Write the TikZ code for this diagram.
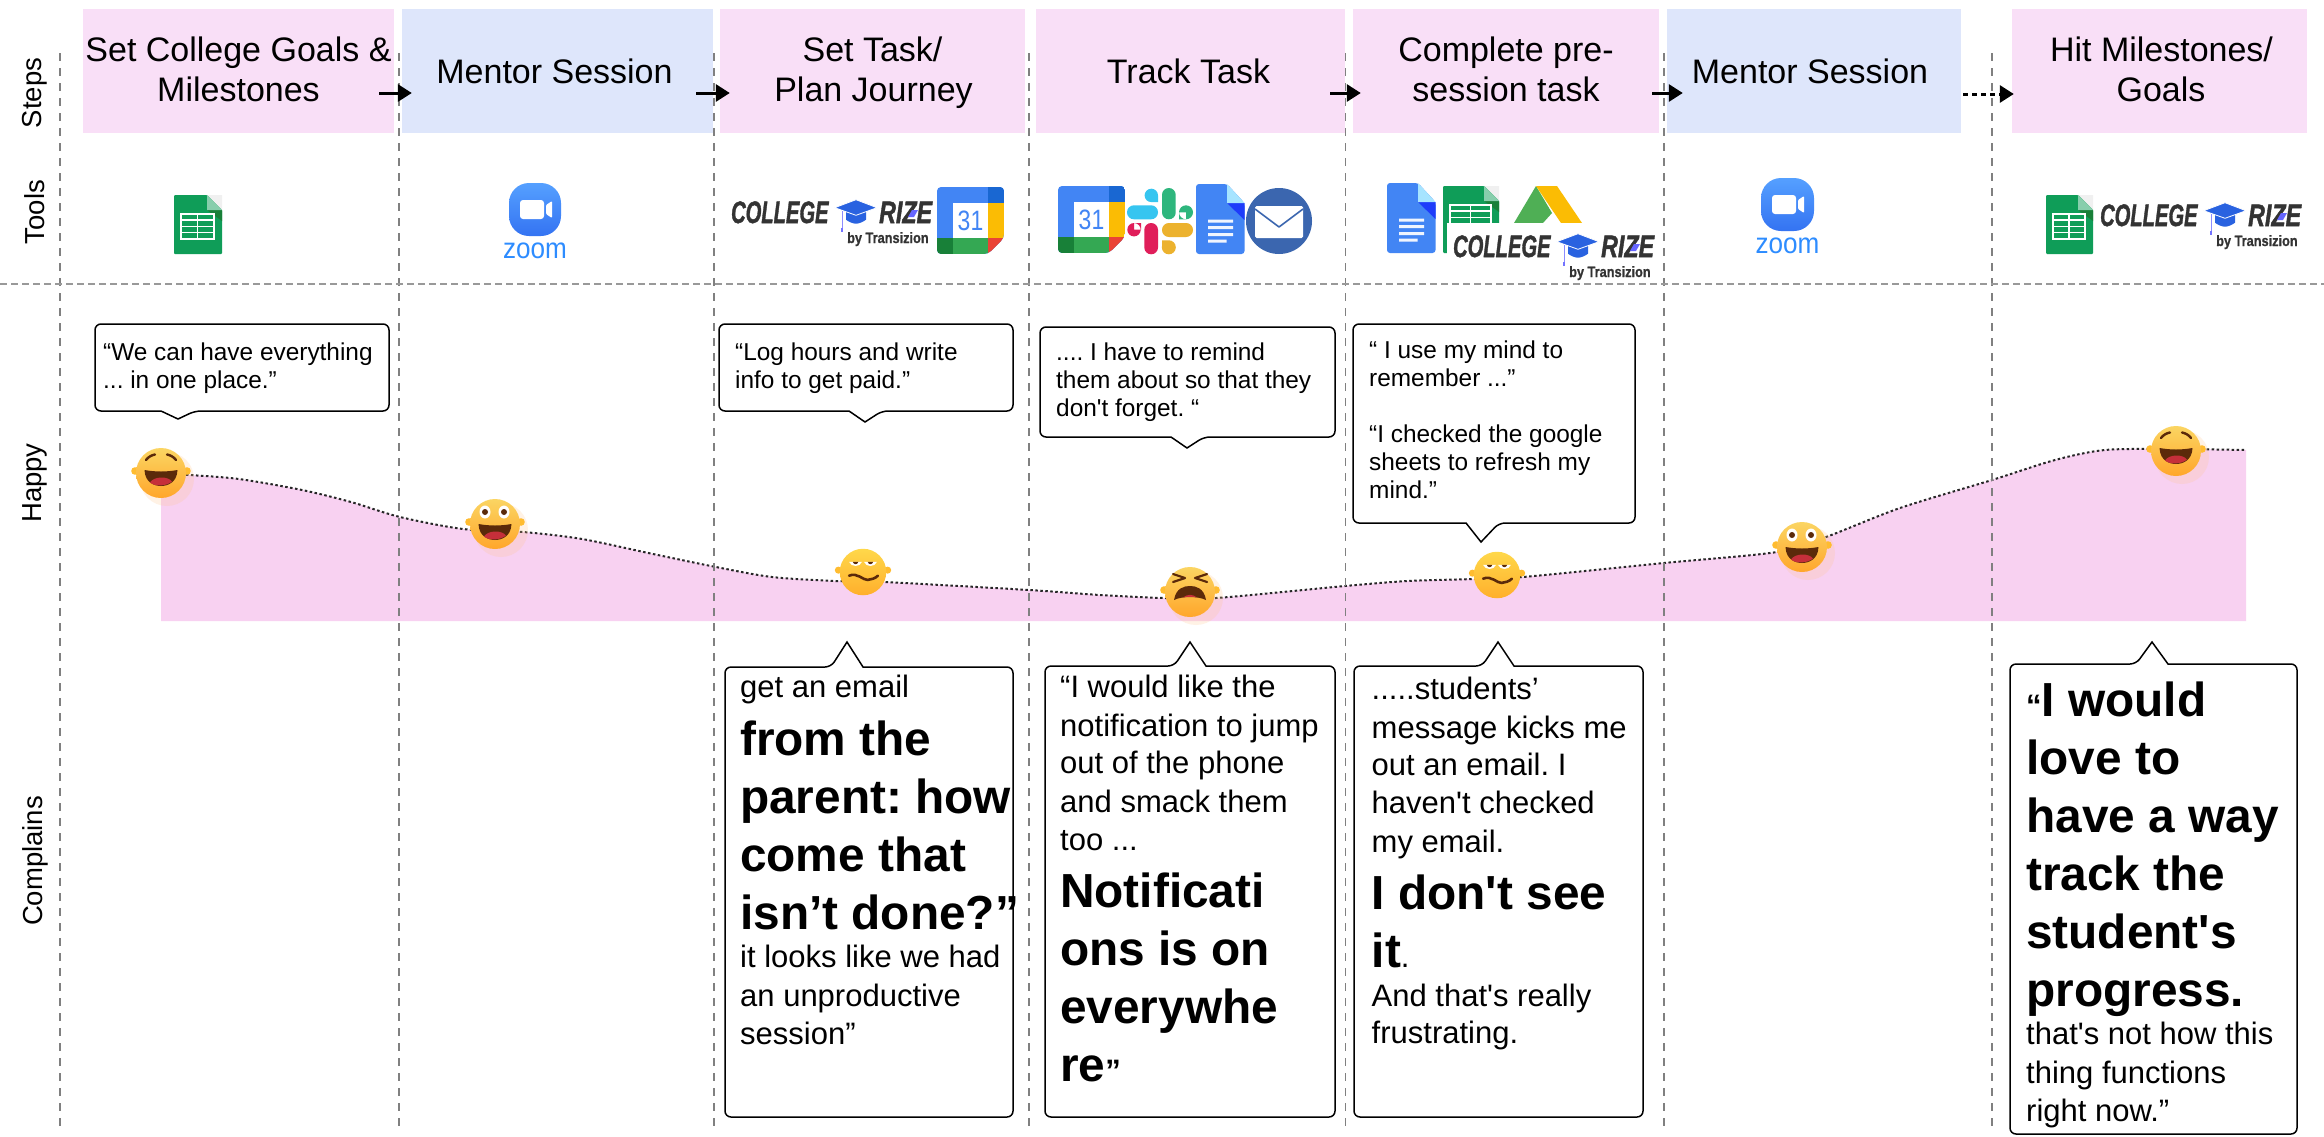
\documentclass[tikz,border=0pt]{standalone}
\usepackage{fontspec}
\setmainfont[Ligatures=TeXOff]{Liberation Sans}
\newfontfamily\logofont[Ligatures=TeXOff,BoldItalicFeatures={FakeBold=1.6},BoldFeatures={FakeBold=1}]{Liberation Sans}
\usetikzlibrary{arrows.meta}
\definecolor{stepPink}{HTML}{F9DFF7}
\definecolor{stepBlue}{HTML}{DEE6FB}
\definecolor{areaPink}{HTML}{F8D1F1}
\definecolor{eBrown}{HTML}{5B2A0A}
\definecolor{eRed}{HTML}{C62F3A}
\definecolor{eTop}{HTML}{FBD562}
\definecolor{eBot}{HTML}{FFA62B}
\definecolor{mTop}{HTML}{FFD84A}
\definecolor{mBot}{HTML}{FFAF2C}
\definecolor{eEar}{HTML}{FFBC30}
\definecolor{gBlue}{HTML}{4285F4}
\definecolor{gDark}{HTML}{1967D2}
\definecolor{gYel}{HTML}{FBBC04}
\definecolor{gGreen}{HTML}{34A853}
\definecolor{gDGreen}{HTML}{188038}
\definecolor{gRed}{HTML}{EA4335}
\definecolor{sGreen}{HTML}{0F9D58}
\definecolor{sMint}{HTML}{87CEAC}
\definecolor{logoInk}{HTML}{333333}
\definecolor{capBlue}{HTML}{2962E0}
\definecolor{zoomBlue}{HTML}{2D8CFF}
\definecolor{zTop}{HTML}{55A0FF}
\definecolor{zBot}{HTML}{3473F2}
\definecolor{mailBlue}{HTML}{3B66AF}
\definecolor{adGreen}{HTML}{4FAF55}
\definecolor{slBlue}{HTML}{36C5F0}
\definecolor{slGreen}{HTML}{2EB67D}
\definecolor{slPink}{HTML}{E01E5A}
\definecolor{slYel}{HTML}{ECB22E}
\AtBeginDocument{\frenchspacing}
\tikzset{
  stepbox/.style={rectangle,inner sep=0pt,minimum height=124pt,align=center,font=\fontsize{34}{40}\selectfont},
  sidelabel/.style={rotate=90,inner sep=0pt,font=\fontsize{27.5}{32}\selectfont},
  vdash/.style={draw=black!50,line width=1.4pt,dash pattern=on 8pt off 7pt},
  hdash/.style={draw=black!40,line width=2pt,dash pattern=on 7pt off 4pt},
  flow/.style={line width=3pt,-{Triangle[length=14pt,width=17pt]}},
  flowdot/.style={line width=3pt,dash pattern=on 5pt off 4pt,-{Triangle[length=14pt,width=17pt]}},
  bubble/.style={draw=black,fill=white,line width=1.5pt,line join=miter},
  quote/.style={anchor=north west,inner sep=0pt},
  curveline/.style={draw=black!85,line width=2pt,dash pattern=on 2.5pt off 2.5pt},
}
\newcommand\twostrut{\vrule height 30pt depth 10pt width 0pt\relax}
\newcommand\onestrut{\vrule height 30pt depth 6pt width 0pt\relax}
\newcommand\ru[2]{\kern#1pt\hbox{\smash{\fontsize{24.4}{28}\selectfont #2}}}
\newcommand\rn[2]{\kern#1pt\hbox{\smash{\fontsize{31}{38}\selectfont #2}}}
\newcommand\rb[2]{\kern#1pt\hbox{\smash{\fontsize{47.8}{58}\selectfont\bfseries #2}}}
\newcommand\bubbledown[8]{\draw[bubble] (#6,#4) [sharp corners] -- (#7,#8) -- (#5,#4) [rounded corners=6pt] -- (#1,#4) -- (#1,#2) -- (#3,#2) -- (#3,#4) -- cycle;}
\newcommand\bubbleup[8]{\draw[bubble] (#5,#2) [sharp corners] -- (#7,#8) -- (#6,#2) [rounded corners=6pt] -- (#3,#2) -- (#3,#4) -- (#1,#4) -- (#1,#2) -- cycle;}
% emoji
\newcommand\facebase[2]{%
  \fill[orange!45,opacity=.22] (6,6) circle (27pt);
  \fill[eEar] (-26,-2) circle (3.8pt) (26,-2) circle (3.8pt);
  \shade[top color=#1,bottom color=#2] (0,0) circle (25pt);}
\newcommand\openmouth[1]{%
  \begin{scope}[yshift=#1]
  \fill[eBrown] (-16.5,-3) .. controls (-5,-1) and (5,-1) .. (16.5,-3) .. controls (16,10) and (6,13) .. (0,13) .. controls (-6,13) and (-16,10) .. (-16.5,-3) -- cycle;
  \fill[eRed] (-11,9.5) .. controls (-7,3) and (7,3) .. (11,8.5) .. controls (6,13) and (-6,14) .. (-11,9.5) -- cycle;
  \end{scope}}
\newcommand\laughface[2]{\begin{scope}[shift={(#1,#2)}]
  \facebase{eTop}{eBot}
  \draw[eBrown,line width=2.4pt,line cap=round] (-15,-13) .. controls (-13,-16) and (-9,-18) .. (-6,-18.5) (6,-18.5) .. controls (9,-18) and (13,-16) .. (15,-13);
  \openmouth{0pt}
  \end{scope}}
\newcommand\wowface[2]{\begin{scope}[shift={(#1,#2)}]
  \facebase{eTop}{eBot}
  \fill[white] (-10,-12) ellipse (5.5pt and 6.5pt) (9,-12) ellipse (5.5pt and 6.5pt);
  \fill[eBrown] (-10,-12) circle (3pt) (9,-12) circle (3pt);
  \openmouth{-3pt}
  \end{scope}}
\newcommand\mehface[2]{\begin{scope}[shift={(#1,#2)},scale=.93]
  \fill[eEar] (-26.5,-2) circle (3.8pt) (26.5,-2) circle (3.8pt);
  \shade[top color=mTop,bottom color=mBot] (0,0) circle (25pt);
  \fill[white] (-15,-11) -- (-1,-11) .. controls (-3,-5) and (-13,-5) .. (-15,-11) -- cycle;
  \fill[white] (1,-11) -- (15,-11) .. controls (13,-5) and (3,-5) .. (1,-11) -- cycle;
  \fill[eBrown] (-11,-11) -- (-5,-11) .. controls (-6,-7.5) and (-10,-7.5) .. (-11,-11) -- cycle;
  \fill[eBrown] (5,-11) -- (11,-11) .. controls (10,-7.5) and (6,-7.5) .. (5,-11) -- cycle;
  \draw[eBrown,line width=2.6pt,line cap=round] (-15,4) .. controls (-6,0) and (0,9) .. (5,8.5) .. controls (9,8) and (13,7) .. (16,4);
  \end{scope}}
\newcommand\cryface[2]{\begin{scope}[shift={(#1,#2)}]
  \facebase{eTop}{eBot}
  \draw[eBrown,line width=2.2pt,line cap=round,line join=round] (-17,-18) -- (-5,-14) -- (-17,-10) (17,-18) -- (5,-14) -- (17,-10);
  \fill[eBrown] (-16,8) .. controls (-14,-4) and (-6,-6) .. (0,-6) .. controls (6,-6) and (14,-4) .. (16,8) .. controls (8,4) and (-8,4) .. (-16,8) -- cycle;
  \fill[eRed] (-7,5.5) .. controls (-3,2) and (3,2) .. (7,5.5) .. controls (3,4.6) and (-3,4.6) .. (-7,5.5) -- cycle;
  \end{scope}}
% tools
\newcommand\sheetsicon[4]{\begin{scope}[shift={(#1,#2)}]% x y w h
  \fill[gray!12] (#3-15,0) -- (#3,0) -- (#3,15) -- cycle;
  \fill[sGreen,rounded corners=1pt] (0,0) -- (#3-15,0) -- (#3,15) -- (#3,#4) -- (0,#4) -- cycle;
  \fill[gDGreen] (#3-15,15) -- (#3,15) -- (#3,26) -- cycle;
  \fill[sMint] (#3-15,0) -- (#3,15) -- (#3-15,15) -- cycle;
  \draw[white,line width=1.5pt] (7,19) rectangle (#3-8,44) (7,25.2) -- (#3-8,25.2) (7,31.5) -- (#3-8,31.5) (7,37.7) -- (#3-8,37.7) ({(#3-1)/2},19) -- ({(#3-1)/2},44);
  \end{scope}}
\newcommand\zoomicon[4]{\begin{scope}[shift={(#2,#3)}]
  \shade[top color=zTop,bottom color=zBot,rounded corners=20pt] (0,0) rectangle (#4,53);
  \fill[white,rounded corners=3pt] (11,17) rectangle (35,36);
  \fill[white,rounded corners=1pt] (37,22) -- (43,18) -- (43,35) -- (37,31) -- cycle;
  \end{scope}
  \node[inner sep=0pt,anchor=base,xscale=.9,text=zoomBlue,font=\fontsize{29}{30}\selectfont] (#1) at ({#2+#4/2},{#3+75}) {zoom};}
\newcommand\gcal[3]{\begin{scope}[shift={(#2,#3)}]
  \begin{scope}
  \clip[rounded corners=4pt] (0,0) -- (67,0) -- (67,51) -- (51,67) -- (0,67) -- cycle;
  \fill[gBlue] (0,0) rectangle (67,67);
  \fill[gDark] (51,0) rectangle (67,16);
  \fill[white] (16,16) rectangle (51,51);
  \fill[gYel] (51,16) rectangle (67,51);
  \fill[gGreen] (16,51) rectangle (51,67);
  \fill[gDGreen] (0,51) rectangle (16,67);
  \fill[gRed] (51,51) -- (67,51) -- (51,67) -- cycle;
  \end{scope}
  \node[inner sep=0pt,xscale=.82,text=gBlue,font=\fontsize{28}{30}\selectfont] (#1) at (33.5,33.5) {31};
  \end{scope}}
\newcommand\docsicon[2]{\begin{scope}[shift={(#1,#2)}]
  \fill[gBlue,rounded corners=3pt] (0,0) -- (31,0) -- (48.5,19) -- (48.5,70) -- (0,70) -- cycle;
  \fill[blue!55!gBlue] (31,19) -- (48.5,19) -- (48.5,36) -- cycle;
  \fill[blue!30!cyan!35] (31,0) -- (48.5,19) -- (31,19) -- cycle;
  \fill[white!92!gBlue] (12,35.5) rectangle (37,38.5) (12,42) rectangle (37,45) (12,49) rectangle (37,52) (12,55.5) rectangle (30.5,58.5);
  \end{scope}}
\newcommand\collegelogo[2]{\begin{scope}[shift={(#2)}]
  \node[inner sep=0pt,anchor=base west,xscale=.65,text=logoInk,font=\logofont\fontsize{31}{32}\selectfont\bfseries\itshape] (#1a) at (0,22) {COLLEGE};
  \node[inner sep=0pt,anchor=base west,xscale=.75,text=logoInk,font=\logofont\fontsize{31}{32}\selectfont\bfseries\itshape] (#1b) at (148,22) {RIZE};
  \node[inner sep=0pt,anchor=base west,xscale=.85,text=logoInk,font=\logofont\fontsize{15}{16}\selectfont\bfseries] (#1c) at (116,42) {by Transizion};
  \fill[blue!60!white] (177,16) -- (181,9) -- (187,9) -- (183,16) -- cycle;
  \draw[blue!45!white,line width=1pt] (111,7.7) -- (111,28);
  \fill[blue!55!white] (110,27) rectangle (112.4,31);
  \fill[capBlue] (115,11) -- (115,18.7) .. controls (118,21) and (122,22.7) .. (125,22.7) .. controls (128,22.7) and (132,21) .. (135,18.7) -- (135,11) -- cycle;
  \fill[capBlue,draw=white,line width=.8pt] (103.7,6.7) -- (125,-1.3) -- (146,6.7) -- (125,14.3) -- cycle;
  \end{scope}}
\newcommand\tear[6]{\fill[#1] (#2,#3) circle (#4pt) (#2,#3) rectangle (#5,#6);}
\begin{document}
\begin{tikzpicture}[x=1pt,y=-1pt]
\useasboundingbox (0,0) rectangle (2324,1136);
\fill[white] (0,0) rectangle (2324,1136);
% curve area
\fill[areaPink] (161,621) -- plot[smooth,tension=.5] coordinates {(161,474) (189,475) (239,479) (302,490) (351,502) (400,517) (463,529) (523,532) (582,539) (653,554) (716,567) (772,577) (835,581) (884,582) (1029,590) (1100,595) (1163,598) (1216,598) (1345,586) (1408,581) (1474,579) (1523,577) (1664,563) (1777,552) (1826,537) (1900,508) (1992,480) (2055,460) (2105,450) (2170,449) (2246,450)} -- (2246,621) -- cycle;
\draw[curveline] plot[smooth,tension=.5] coordinates {(161,474) (189,475) (239,479) (302,490) (351,502) (400,517) (463,529) (523,532) (582,539) (653,554) (716,567) (772,577) (835,581) (884,582) (1029,590) (1100,595) (1163,598) (1216,598) (1345,586) (1408,581) (1474,579) (1523,577) (1664,563) (1777,552) (1826,537) (1900,508) (1992,480) (2055,460) (2105,450) (2170,449) (2246,450)};
% step boxes
\node[stepbox,fill=stepPink,minimum width=311pt] (s1) at (238.5,71) {\twostrut Set College Goals \&\\\twostrut Milestones};
\node[stepbox,fill=stepBlue,minimum width=311pt] (s2) at (557.5,71) {\onestrut Mentor Session\kern6pt};
\node[stepbox,fill=stepPink,minimum width=305pt] (s3) at (872.5,71) {\twostrut Set Task/\\\twostrut\kern2pt Plan Journey};
\node[stepbox,fill=stepPink,minimum width=309pt] (s4) at (1190.5,71) {\onestrut Track Task\kern4pt};
\node[stepbox,fill=stepPink,minimum width=306pt] (s5) at (1506,71) {\twostrut Complete pre-\\\twostrut session task};
\node[stepbox,fill=stepBlue,minimum width=294pt] (s6) at (1814,71) {\onestrut Mentor Session\kern8pt};
\node[stepbox,fill=stepPink,minimum width=295pt] (s7) at (2159.5,71) {\twostrut\kern4pt Hit Milestones/\\\twostrut\kern3pt Goals};
% guide lines
\foreach \gx in {60,399,714,1029,1345.5,1664,1992} \draw[vdash] (\gx,53) -- (\gx,1131);
\draw[hdash] (0,284) -- (2324,284);
% arrows
\draw[flow] ([xshift=-15pt,yshift=-22pt]s1.east) -- ([xshift=10pt,yshift=-22pt]s2.west);
\draw[flow] ([xshift=-17pt,yshift=-22pt]s2.east) -- ([xshift=10pt,yshift=-22pt]s3.west);
\draw[flow] ([xshift=-15pt,yshift=-22pt]s4.east) -- ([xshift=8pt,yshift=-22pt]s5.west);
\draw[flow] ([xshift=-7pt,yshift=-22pt]s5.east) -- ([xshift=16pt,yshift=-22pt]s6.west);
\draw[flowdot] ([xshift=2pt,yshift=-23pt]s6.east) -- ([xshift=2pt,yshift=-23pt]s7.west);
% side labels
\node[sidelabel] (lSteps) at (35,93) {Steps};
\node[sidelabel] (lTools) at (35,212) {Tools};
\node[sidelabel] (lHappy) at (35,483) {Happy};
\node[sidelabel] (lCompl) at (35,861) {Complains};
% tools
\sheetsicon{174}{195}{48}{59}
\zoomicon{zm1}{509}{183}{52}
\collegelogo{lg1}{731,201}
\gcal{cal1}{937}{187}
\gcal{cal2}{1058}{186}
\begin{scope}[shift={(1127,188)}]
 \fill[slBlue,rounded corners=6.9pt] (0,17.3) rectangle (31,31.3);
 \tear{slBlue}{24.3}{7.4}{6.7}{31}{14}
 \fill[slGreen,rounded corners=6.8pt] (35,0) rectangle (48.7,31.3);
 \tear{slGreen}{59}{24.3}{7}{52}{31.3}
 \fill[slPink,rounded corners=6.8pt] (17.3,35) rectangle (31,66.3);
 \tear{slPink}{7}{41.7}{6.7}{14}{35}
 \fill[slYel,rounded corners=6.9pt] (35,35) rectangle (66,49);
 \tear{slYel}{41.8}{59.3}{7}{35}{52.3}
\end{scope}
\docsicon{1196}{184}
\fill[mailBlue] (1279,221) circle (33pt);
\fill[white,rounded corners=1.5pt] (1255,206) rectangle (1303,238);
\draw[mailBlue,line width=1.6pt,line join=round] (1255,209) -- (1279,227) -- (1303,209);
\docsicon{1387}{183}
\sheetsicon{1443}{186}{56}{67}
\fill[adGreen] (1514,223) -- (1536,186) -- (1552,213) -- (1543,223) -- cycle;
\fill[gYel] (1536,186) -- (1557,186) -- (1582,223) -- (1561,223) -- cycle;
\fill[white] (1447,223) rectangle (1660,281);
\collegelogo{lg2}{1453,235}
\zoomicon{zm2}{1761}{178}{53}
\sheetsicon{2046}{195}{47}{59}
\collegelogo{lg3}{2100,204}
% emoji
\laughface{161}{473}
\wowface{495}{524}
\mehface{863}{572}
\cryface{1190}{592}
\mehface{1497}{575}
\wowface{1802}{547}
\laughface{2176}{451}
% upper quotes
\bubbledown{95}{324}{389}{411}{161}{195}{178}{419}
\node[quote] (q1) at (103,324) {\vbox{\offinterlineskip\ru{36}{“We can have everything}\ru{28}{... in one place.”}}};
\bubbledown{719}{324}{1013}{411}{849}{882}{865}{422}
\node[quote] (q2) at (735,324) {\vbox{\offinterlineskip\ru{36}{“Log hours and write}\ru{28}{info to get paid.”}}};
\bubbledown{1040}{327}{1335}{437}{1171}{1204}{1187}{448}
\node[quote] (q3) at (1056,327) {\vbox{\offinterlineskip\ru{33}{.... I have to remind}\ru{28}{them about so that they}\ru{28}{don't forget. “}}};
\bubbledown{1353}{324}{1635}{523}{1466}{1499}{1481}{542}
\node[quote] (q4) at (1369,324) {\vbox{\offinterlineskip\ru{34}{“ I use my mind to}\ru{28}{remember ...”}\ru{56}{“I checked the google}\ru{28}{sheets to refresh my}\ru{28}{mind.”}}};
% lower complaints
\bubbleup{725}{667}{1013}{1117}{831}{863}{847}{642}
\node[quote] (c1) at (740,667) {\vbox{\offinterlineskip\rn{30}{get an email}\rb{58}{from the}\rb{58}{parent: how}\rb{58}{come that}\rb{58}{isn’t done?”}\rn{38}{it looks like we had}\rn{39}{an unproductive}\rn{38}{session”}}};
\bubbleup{1045}{666}{1335}{1117}{1174}{1206}{1190}{642}
\node[quote] (c2) at (1060,666) {\vbox{\offinterlineskip\rn{31}{“I would like the}\rn{39}{notification to jump}\rn{37}{out of the phone}\rn{39}{and smack them}\rn{38}{too ...}\rb{57}{Notificati}\rb{58}{ons is on}\rb{58}{everywhe}\rb{58}{re{\fontsize{31}{38}\selectfont ”}}}};
\bubbleup{1354}{666}{1643}{1117}{1482}{1514}{1498}{642}
\node[quote] (c3) at (1371.5,666) {\vbox{\offinterlineskip\rn{33}{.....students’}\rn{39}{message kicks me}\rn{37}{out an email. I}\rn{38}{haven't checked}\rn{39}{my email.}\rb{57}{I don't see}\rb{58}{it{\fontsize{31}{38}\selectfont\mdseries .}}\rn{39}{And that's really}\rn{37}{frustrating.}}};
\bubbleup{2010}{664}{2297}{1134}{2136}{2168}{2152}{642}
\node[quote] (c4) at (2026,664) {\vbox{\offinterlineskip\rb{52}{{\fontsize{31}{38}\selectfont “}I would}\rb{58}{love to}\rb{58}{have a way}\rb{58}{track the}\rb{58}{student's}\rb{58}{progress.}\rn{38}{that's not how this}\rn{39}{thing functions}\rn{38}{right now.”}}};
\end{tikzpicture}
\end{document}
